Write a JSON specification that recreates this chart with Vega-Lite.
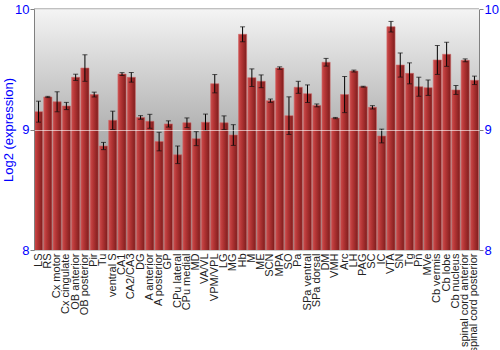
{
  "$schema": "https://vega.github.io/schema/vega-lite/v6.json",
  "autosize": {"type": "none"},
  "width": 445,
  "height": 241,
  "padding": {"left": 34, "top": 9, "right": 21, "bottom": 100},
  "config": {
    "font": "Liberation Sans",
    "view": {"stroke": null},
    "axis": {"domainColor": "#808080", "tickColor": "#808080", "labelFont": "Liberation Sans", "titleFont": "Liberation Sans"}
  },
  "datasets": {
    "expr": [
      {"region": "LS", "value": 9.148, "lo": 9.061, "hi": 9.235},
      {"region": "RS", "value": 9.27, "lo": 9.265, "hi": 9.275},
      {"region": "Cx motor", "value": 9.23, "lo": 9.147, "hi": 9.313},
      {"region": "Cx cingulate", "value": 9.195, "lo": 9.165, "hi": 9.225},
      {"region": "OB anterior", "value": 9.433, "lo": 9.407, "hi": 9.459},
      {"region": "OB posterior", "value": 9.51, "lo": 9.4, "hi": 9.62},
      {"region": "Pir", "value": 9.29, "lo": 9.27, "hi": 9.31},
      {"region": "Tu", "value": 8.863, "lo": 8.833, "hi": 8.893},
      {"region": "ventral S", "value": 9.076, "lo": 9.0, "hi": 9.152},
      {"region": "CA1", "value": 9.46, "lo": 9.448, "hi": 9.472},
      {"region": "CA2/CA3", "value": 9.433, "lo": 9.393, "hi": 9.473},
      {"region": "DG", "value": 9.1, "lo": 9.085, "hi": 9.115},
      {"region": "A anterior", "value": 9.068, "lo": 9.01, "hi": 9.126},
      {"region": "A posterior", "value": 8.9, "lo": 8.823, "hi": 8.977},
      {"region": "GP", "value": 9.046, "lo": 9.02, "hi": 9.072},
      {"region": "CPu lateral", "value": 8.79, "lo": 8.717, "hi": 8.863},
      {"region": "CPu medial", "value": 9.056, "lo": 9.016, "hi": 9.096},
      {"region": "MD", "value": 8.924, "lo": 8.866, "hi": 8.982},
      {"region": "VA/VL", "value": 9.06, "lo": 8.992, "hi": 9.128},
      {"region": "VPM/VPL", "value": 9.38, "lo": 9.304, "hi": 9.456},
      {"region": "LG", "value": 9.056, "lo": 8.999, "hi": 9.113},
      {"region": "MG", "value": 8.954, "lo": 8.868, "hi": 9.04},
      {"region": "Hb", "value": 9.79, "lo": 9.728, "hi": 9.852},
      {"region": "M", "value": 9.43, "lo": 9.357, "hi": 9.503},
      {"region": "ME", "value": 9.4, "lo": 9.347, "hi": 9.453},
      {"region": "SCN", "value": 9.239, "lo": 9.225, "hi": 9.253},
      {"region": "MPA", "value": 9.51, "lo": 9.5, "hi": 9.52},
      {"region": "SO", "value": 9.115, "lo": 8.959, "hi": 9.271},
      {"region": "Pa", "value": 9.35, "lo": 9.3, "hi": 9.4},
      {"region": "SPa ventral", "value": 9.297, "lo": 9.224, "hi": 9.37},
      {"region": "SPa dorsal", "value": 9.2, "lo": 9.188, "hi": 9.212},
      {"region": "DM", "value": 9.558, "lo": 9.526, "hi": 9.59},
      {"region": "VMH", "value": 9.095, "lo": 9.09, "hi": 9.1},
      {"region": "Arc", "value": 9.29, "lo": 9.14, "hi": 9.44},
      {"region": "LH", "value": 9.485, "lo": 9.477, "hi": 9.493},
      {"region": "PAG", "value": 9.355, "lo": 9.351, "hi": 9.359},
      {"region": "SC", "value": 9.184, "lo": 9.17, "hi": 9.198},
      {"region": "IC", "value": 8.946, "lo": 8.889, "hi": 9.003},
      {"region": "VTA", "value": 9.853, "lo": 9.809, "hi": 9.897},
      {"region": "SN", "value": 9.535, "lo": 9.435, "hi": 9.635},
      {"region": "Tg", "value": 9.466, "lo": 9.379, "hi": 9.553},
      {"region": "Pn", "value": 9.355, "lo": 9.276, "hi": 9.434},
      {"region": "MVe", "value": 9.347, "lo": 9.283, "hi": 9.411},
      {"region": "Cb vermis", "value": 9.577, "lo": 9.457, "hi": 9.697},
      {"region": "Cb lobe", "value": 9.624, "lo": 9.524, "hi": 9.724},
      {"region": "Cb nucleus", "value": 9.328, "lo": 9.291, "hi": 9.365},
      {"region": "spinal cord anterior", "value": 9.574, "lo": 9.562, "hi": 9.586},
      {"region": "spinal cord posterior", "value": 9.408, "lo": 9.373, "hi": 9.443}
    ]
  },
  "layer": [
    {
      "layer": [
        {
          "data": {"values": [{"top": 10, "bottom": 8}]},
          "mark": {
            "type": "rect",
            "fill": {
              "gradient": "linear", "x1": 0, "y1": 0, "x2": 0, "y2": 1,
              "stops": [
                {"offset": 0, "color": "#f4f4f4"},
                {"offset": 0.5, "color": "#b2b2b2"},
                {"offset": 1, "color": "#8c8c8c"}
              ]
            }
          },
          "encoding": {
            "y": {"field": "top", "type": "quantitative", "scale": {"domain": [8, 10]},
              "axis": {"orient": "left", "values": [8, 9, 10], "format": ".0f", "labelOverlap": false,
                "grid": true, "gridColor": "#ffffff", "gridOpacity": 0.6, "zindex": 1,
                "title": "Log2 (expression)", "titleColor": "#0000ff", "titleFontSize": 13, "titleFontWeight": "normal",
                "labelColor": "#0000ff", "labelFontSize": 13, "tickSize": 4, "labelPadding": 1, "titlePadding": -1}},
            "y2": {"field": "bottom"}
          }
        },
        {
          "data": {"name": "expr"},
          "mark": {
            "type": "bar",
            "clip": true,
            "stroke": "#d06868",
            "strokeWidth": 0.6,
            "fill": {
              "gradient": "linear", "x1": 0, "y1": 0, "x2": 1, "y2": 0,
              "stops": [
                {"offset": 0, "color": "#cc4c4c"},
                {"offset": 0.35, "color": "#b53636"},
                {"offset": 1, "color": "#7e1c1c"}
              ]
            }
          },
          "encoding": {
            "x": {"field": "region", "type": "nominal", "sort": null,
              "scale": {"paddingInner": 0.12, "paddingOuter": 0.05},
              "axis": {"title": null, "labelAngle": -90, "labelFontSize": 11, "labelColor": "#222222", "ticks": false, "labelPadding": 3, "domainColor": "#808080"}},
            "y": {"field": "value", "type": "quantitative"}
          }
        },
        {
          "data": {"name": "expr"},
          "mark": {"type": "rule", "color": "#000000", "strokeWidth": 1},
          "encoding": {
            "x": {"field": "region", "type": "nominal", "sort": null},
            "y": {"field": "lo", "type": "quantitative"},
            "y2": {"field": "hi"}
          }
        },
        {
          "data": {"name": "expr"},
          "mark": {"type": "tick", "color": "#111111", "size": 5, "thickness": 1},
          "encoding": {
            "x": {"field": "region", "type": "nominal", "sort": null},
            "y": {"field": "lo", "type": "quantitative"}
          }
        },
        {
          "data": {"name": "expr"},
          "mark": {"type": "tick", "color": "#111111", "size": 5, "thickness": 1},
          "encoding": {
            "x": {"field": "region", "type": "nominal", "sort": null},
            "y": {"field": "hi", "type": "quantitative"}
          }
        },
        {
          "data": {"values": [{"v": 10}]},
          "mark": {"type": "rule", "color": "#808080", "strokeWidth": 1},
          "encoding": {"y": {"field": "v", "type": "quantitative"}}
        }
      ]
    },
    {
      "data": {"values": [{"v": 8}]},
      "mark": {"type": "rule", "opacity": 0},
      "encoding": {
        "y": {"field": "v", "type": "quantitative", "scale": {"domain": [8, 10]},
          "axis": {"orient": "right", "values": [8, 9, 10], "format": ".0f", "labelOverlap": false,
            "grid": false, "title": null,
            "labelColor": "#0000ff", "labelFontSize": 13, "tickSize": 4, "labelPadding": 1}}
      }
    }
  ],
  "resolve": {"scale": {"y": "independent"}}
}
